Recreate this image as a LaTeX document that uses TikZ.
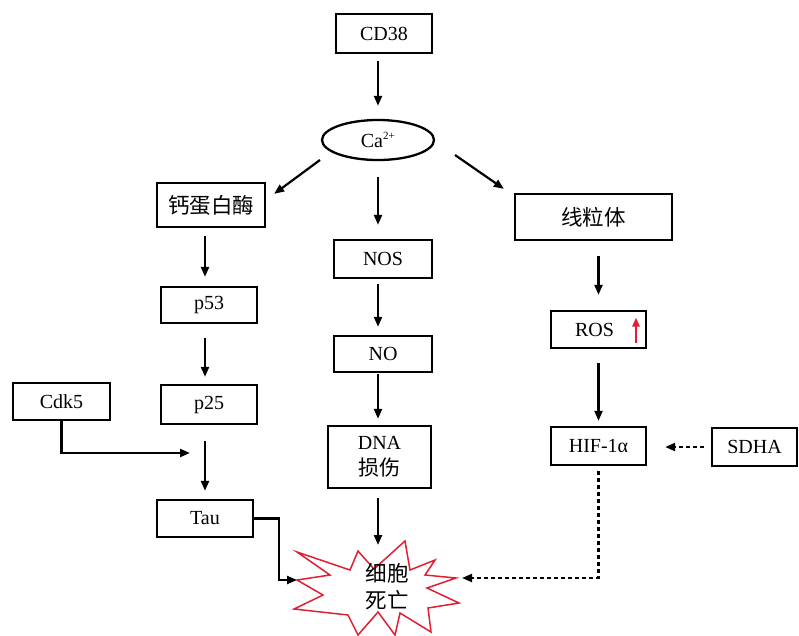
\documentclass[tikz,border=0pt]{standalone}
\usepackage{fontspec}
\setmainfont{Liberation Serif}
\newfontfamily\cjk{Noto Sans CJK SC}
\usetikzlibrary{arrows.meta,shapes.geometric}
\definecolor{burst}{RGB}{225,30,50}
\begin{document}
\begin{tikzpicture}[x=1pt,y=-1pt,
  font=\fontsize{20}{23}\selectfont,
  box/.style={draw, line width=2.3pt, inner sep=0pt, align=center},
  cj/.style={font=\cjk\fontsize{21.5}{25}\selectfont},
  arr/.style={line width=2.2pt, -{Triangle[length=10pt,width=8pt]}},
  darr/.style={arr, dash pattern=on 4pt off 3pt},
  redarr/.style={line width=2.3pt, draw=burst, -{Triangle[length=9pt,width=7pt]}}]
\useasboundingbox (0,0) rectangle (799,635);

% nodes
\node[box, minimum width=96, minimum height=39] (cd38) at (384,33.5) {CD38};
\node[box, ellipse, minimum width=112, minimum height=40] (ca) at (378,140) {Ca\textsuperscript{\fontsize{11}{12}\selectfont 2+}};
\node[box, cj, minimum width=108, minimum height=44] (calp) at (211,205) {钙蛋白酶};
\node[box, minimum width=98, minimum height=38] (nos) at (383,259) {NOS};
\node[box, cj, minimum width=157, minimum height=46] (mito) at (593.5,217) {线粒体};
\node[box, minimum width=96, minimum height=36] (p53) at (209,305) {p53};
\node[box, minimum width=96, minimum height=39] (p25) at (209,404.5) {p25};
\node[box, minimum width=97, minimum height=37] (cdk5) at (61.5,401.5) {Cdk5};
\node[box, minimum width=96, minimum height=37] (tau) at (205,518.5) {Tau};
\node[box, minimum width=98, minimum height=36] (no) at (383,354) {NO};
\node[box, minimum width=103, minimum height=62] (dna) at (379.5,457) {DNA\\[3pt]{\cjk\fontsize{21}{24}\selectfont 损伤}};
\node[box, minimum width=95, minimum height=37] (ros) at (598.5,329.5) {\hspace*{-8pt}ROS};
\node[box, minimum width=95, minimum height=38] (hif) at (598.5,446) {HIF-1α};
\node[box, minimum width=85, minimum height=38] (sdha) at (754.5,447) {SDHA};

% cell death burst
\draw[burst, line width=1.5pt, line join=miter]
  (297,552) -- (350,570) -- (358,551) -- (374,569) -- (405,541) -- (410,570)
  -- (435,560) -- (425,575) -- (456,578) -- (427,588) -- (459,603) -- (428,608)
  -- (431,632) -- (400,613) -- (395,635) -- (378,612) -- (358,635) -- (348,615)
  -- (294,609) -- (323,595) -- (297,580) -- (330,575) -- cycle;
\node[cj, align=center, inner sep=0pt] (death) at (387,587) {细胞\\[2pt]死亡};
\coordinate (dtop) at (378,545);
\coordinate (dleft) at (297,580);
\coordinate (dright) at (462,578);
\coordinate (cdkend) at (190,453);

% red arrow in ROS
\draw[redarr] ([shift={(37.5,13)}]ros.center) -- ([shift={(37.5,-12)}]ros.center);

% connectors
\draw[arr, shorten <=7pt, shorten >=13pt] (cd38.south -| ca) -- (ca.north);
\draw[arr] ([shift={(-58,20)}]ca.center) -- ([shift={(8,12)}]calp.north east);
\draw[arr] ([shift={(77,15)}]ca.center) -- ([shift={(-10,-4)}]mito.north west);
\draw[arr, shorten <=16pt, shorten >=14pt] (ca.south) -- (nos.north -| ca);

\draw[arr, shorten <=8pt, shorten >=9pt] (calp.south -| tau) -- (p53.north -| tau);
\draw[arr, shorten <=14pt, shorten >=7pt] (p53.south -| tau) -- (p25.north -| tau);
\draw[arr, shorten <=16pt, shorten >=8pt] (p25.south -| tau) -- (tau.north);
\draw[arr] (cdk5.south) |- (cdkend);
\draw[arr] (tau.east) -- ++(25,0) |- (dleft);

\draw[arr, shorten <=5pt, shorten >=8pt] (nos.south -| ca) -- (no.north -| ca);
\draw[arr, shorten <=1pt, shorten >=6pt] (no.south -| ca) -- (dna.north -| ca);
\draw[arr, shorten <=9pt] (dna.south -| ca) -- (dtop);

\draw[arr, shorten <=15pt, shorten >=15pt] (mito.south -| hif) -- (ros.north -| hif);
\draw[arr, shorten <=14pt, shorten >=5pt] (ros.south -| hif) -- (hif.north);
\draw[darr, shorten <=7pt, shorten >=18pt] (sdha.west) -- (sdha.west -| hif.east);
\draw[darr, shorten <=5pt] (hif.south) |- (dright);
\end{tikzpicture}
\end{document}
